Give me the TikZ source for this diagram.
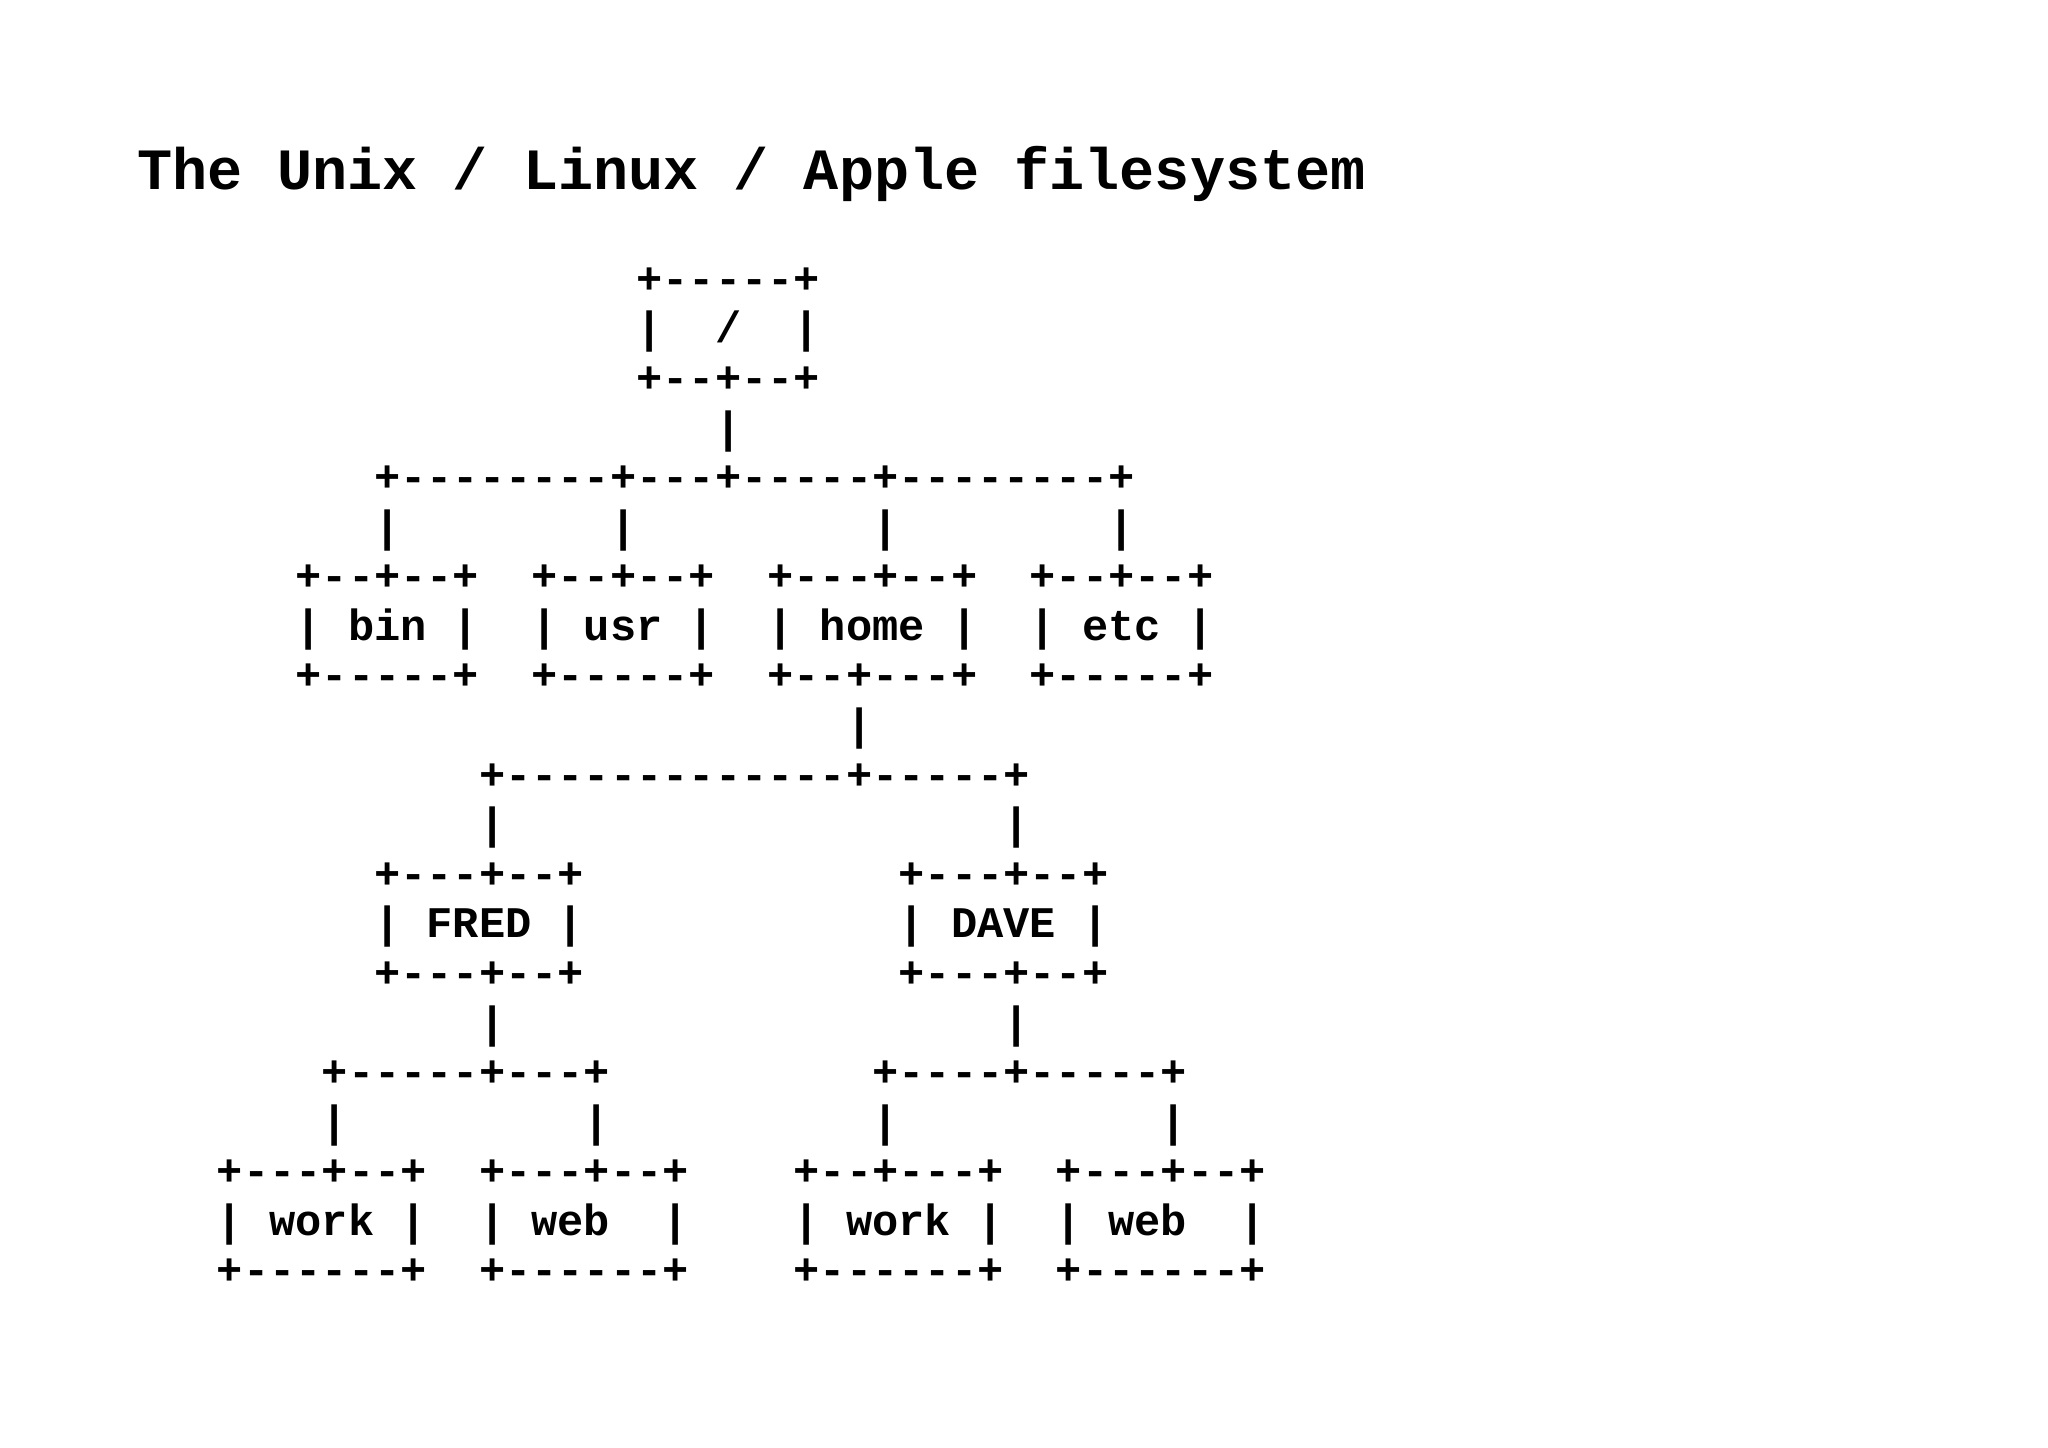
\documentclass[tikz,border=0pt]{standalone}
\usepackage{fontspec}
\setmonofont{Liberation Mono}
\newcommand\gap[1]{\hspace*{\dimexpr0.6em*#1\relax}}
\begin{document}
\begin{tikzpicture}[x=0.5pt,y=-0.5pt,
  asc/.style={anchor=base west, inner sep=0pt, outer sep=0pt,
    font=\fontsize{21.85}{21.85}\selectfont\ttfamily\bfseries},
  ttl/.style={anchor=base west, inner sep=0pt, outer sep=0pt,
    font=\fontsize{29.25}{29.25}\selectfont\ttfamily\bfseries}]
\useasboundingbox (0,0) rectangle (2048,1447);
\fill[white] (0,0) rectangle (2048,1447);
\node[ttl] (title) at (137,189) {The Unix / Linux / Apple filesystem};
\begin{scope}[yshift=-1.3pt]
\node[asc] (r1)  at (216.9,290.7)  {\gap{16}+-----+};
\node[asc] (r2)  at (216.9,340.3)  {\gap{16}|\gap{2}/\gap{2}|};
\node[asc] (r3)  at (216.9,389.9)  {\gap{16}+--+--+};
\node[asc] (r4)  at (216.9,439.4)  {\gap{19}|};
\node[asc] (r5)  at (216.9,489.0)  {\gap{6}+--------+---+-----+--------+};
\node[asc] (r6)  at (216.9,538.6)  {\gap{6}|\gap{8}|\gap{9}|\gap{8}|};
\node[asc] (r7)  at (216.9,588.2)  {\gap{3}+--+--+\gap{2}+--+--+\gap{2}+---+--+\gap{2}+--+--+};
\node[asc] (r8)  at (216.9,637.8)  {\gap{3}|\gap{1}bin\gap{1}|\gap{2}|\gap{1}usr\gap{1}|\gap{2}|\gap{1}home\gap{1}|\gap{2}|\gap{1}etc\gap{1}|};
\node[asc] (r9)  at (216.9,687.3)  {\gap{3}+-----+\gap{2}+-----+\gap{2}+--+---+\gap{2}+-----+};
\node[asc] (r10) at (216.9,736.9)  {\gap{24}|};
\node[asc] (r11) at (216.9,786.5)  {\gap{10}+-------------+-----+};
\node[asc] (r12) at (216.9,836.1)  {\gap{10}|\gap{19}|};
\node[asc] (r13) at (216.9,885.7)  {\gap{6}+---+--+\gap{12}+---+--+};
\node[asc] (r14) at (216.9,935.2)  {\gap{6}|\gap{1}FRED\gap{1}|\gap{12}|\gap{1}DAVE\gap{1}|};
\node[asc] (r15) at (216.9,984.8)  {\gap{6}+---+--+\gap{12}+---+--+};
\node[asc] (r16) at (216.9,1034.4) {\gap{10}|\gap{19}|};
\node[asc] (r17) at (216.9,1084.0) {\gap{4}+-----+---+\gap{10}+----+-----+};
\node[asc] (r18) at (216.9,1133.6) {\gap{4}|\gap{9}|\gap{10}|\gap{10}|};
\node[asc] (r19) at (216.9,1183.1) {+---+--+\gap{2}+---+--+\gap{4}+--+---+\gap{2}+---+--+};
\node[asc] (r20) at (216.9,1232.7) {|\gap{1}work\gap{1}|\gap{2}|\gap{1}web\gap{2}|\gap{4}|\gap{1}work\gap{1}|\gap{2}|\gap{1}web\gap{2}|};
\node[asc] (r21) at (216.9,1282.3) {+------+\gap{2}+------+\gap{4}+------+\gap{2}+------+};
\end{scope}
\end{tikzpicture}
\end{document}
